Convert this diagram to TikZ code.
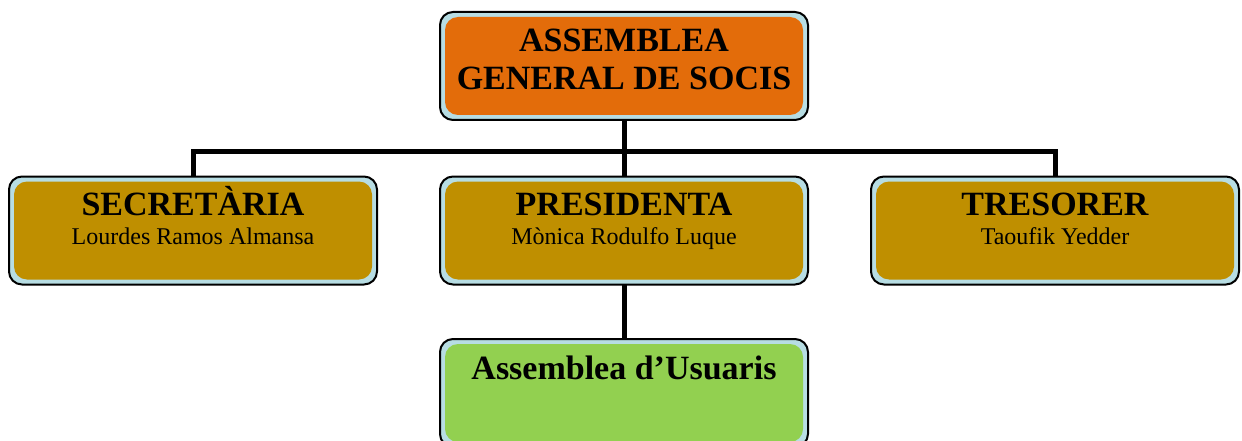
\documentclass[tikz,border=0pt]{standalone}
\usepackage{fontspec}
\setmainfont{Liberation Serif}
\usetikzlibrary{backgrounds}
\definecolor{rim}{HTML}{B7DDE3}
\definecolor{orangebox}{HTML}{E36C0A}
\definecolor{goldbox}{HTML}{BF8F00}
\definecolor{greenbox}{HTML}{92D050}
\tikzset{
  orgbox/.style={draw=black, line width=2pt, fill=rim, rounded corners=13pt,
    minimum width=368pt, minimum height=108pt, inner sep=0pt, outer sep=0pt,
    path picture={\fill[#1] ([shift={(5pt,5pt)}]path picture bounding box.south west)
      rectangle ([shift={(-5pt,-5pt)}]path picture bounding box.north east);}},
  bigtxt/.style={font=\fontsize{34}{36}\selectfont\bfseries, anchor=base, inner sep=0pt},
  smalltxt/.style={font=\fontsize{24}{26}\selectfont, anchor=base, inner sep=0pt},
  link/.style={line width=5pt, draw=black}
}
\begin{document}
\begin{tikzpicture}[x=1pt,y=-1pt]
\useasboundingbox (0,0) rectangle (1242,441);
\clip (0,0) rectangle (1242,441);
\node[orgbox=orangebox] (top) at (624,66) {};
\node[orgbox=goldbox] (sec) at (193,230.5) {};
\node[orgbox=goldbox] (pres) at (624,230.5) {};
\node[orgbox=goldbox] (tres) at (1055,230.5) {};
\node[orgbox=greenbox] (usu) at (624,393) {};
\begin{scope}[on background layer]
  \coordinate (bar) at (624,152);
  \draw[link] (top.south) -- (bar);
  \draw[link] (sec.north) |- (bar) -| (tres.north);
  \draw[link] (bar) -- (pres.north);
  \draw[link] (pres.south) -- (usu.north);
\end{scope}
\node[bigtxt] (t1) at (624,52) {ASSEMBLEA};
\node[bigtxt] (t2) at (624,90) {GENERAL DE SOCIS};
\node[bigtxt] (s1) at (193,215) {SECRETÀRIA};
\node[smalltxt] (s2) at (193,244) {Lourdes Ramos Almansa};
\node[bigtxt] (p1) at (624,215) {PRESIDENTA};
\node[smalltxt] (p2) at (624,244) {Mònica Rodulfo Luque};
\node[bigtxt] (r1) at (1055,215) {TRESORER};
\node[smalltxt] (r2) at (1055,244) {Taoufik Yedder};
\node[bigtxt] (u1) at (624,379) {Assemblea d’Usuaris};
\end{tikzpicture}
\end{document}
